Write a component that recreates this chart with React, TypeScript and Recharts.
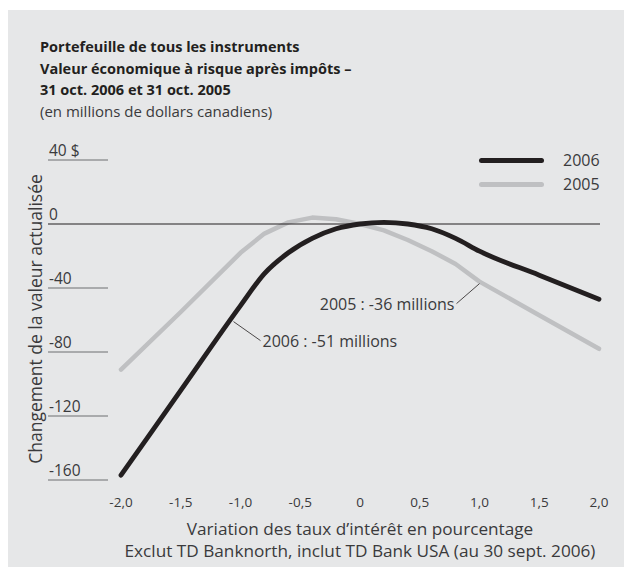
import { LineChart, Line, XAxis, YAxis, ReferenceDot } from 'recharts';

// variation des taux (points de %) et valeur économique à risque (M$ CA)
const rates = [-2, -1.5, -1, -0.8, -0.6, -0.4, -0.2, 0, 0.2, 0.4, 0.6, 0.8, 1, 1.5, 2];
const ev2006 = [-157, -104, -51, -31, -18, -9, -3, 0, 1, 0, -3, -9, -17, -32, -47];
const ev2005 = [-91, -55, -18, -6, 1, 4, 3, 0, -4, -10, -17, -25, -36, -57, -78];
const xTicks = [-2, -1.5, -1, -0.5, 0, 0.5, 1, 1.5, 2];
const yTicks = [-160, -120, -80, -40, 0, 40];

const titleLines = [
  'Portefeuille de tous les instruments',
  'Valeur économique à risque après impôts –',
  '31 oct. 2006 et 31 oct. 2005',
];

const FONT = '"Open Sans", "Noto Sans", sans-serif';
const BLACK = '#231f20';
const GREY = '#bfc0c2';
const TEXT = '#3a3a3c';

const data = rates.map((r, i) => ({ rate: r, y2006: ev2006[i], y2005: ev2005[i] }));

function YTick({ y, payload }: any) {
  const v = payload.value;
  const label = v === 40 ? '40 $' : `${v}`;
  return (
    <g>
      <text x={49} y={y - 4} fontSize={15.5} fill={TEXT} fontFamily={FONT}>{label}</text>
      <line x1={48} x2={v === 0 ? 600 : 108} y1={y} y2={y} stroke={v === 0 ? BLACK : '#6d6e71'} strokeWidth={1} />
    </g>
  );
}

function XTick({ x, y, payload }: any) {
  const v = payload.value;
  const label = v === 0 ? '0' : v.toFixed(1).replace('.', ',');
  return (
    <text x={x} y={y + 27} textAnchor="middle" fontSize={13.5} fill={TEXT} fontFamily={FONT}>{label}</text>
  );
}

function LegendBox() {
  const rows = [
    { name: '2006', color: BLACK },
    { name: '2005', color: GREY },
  ];
  return (
    <div style={{ position: 'absolute', left: 479, top: 148 }}>
      {rows.map((r) => (
        <div key={r.name} style={{ display: 'flex', alignItems: 'center', height: 24 }}>
          <span style={{ display: 'inline-block', width: 65, height: 5, borderRadius: 3, background: r.color }} />
          <span style={{ marginLeft: 19, fontSize: 16, color: TEXT }}>{r.name}</span>
        </div>
      ))}
    </div>
  );
}

function Note2006({ cx, cy }: any) {
  return (
    <g>
      <line x1={cx - 7} y1={cy + 16} x2={cx + 20} y2={cy + 35} stroke={BLACK} strokeWidth={0.8} />
      <text x={cx + 22} y={cy + 41} fontSize={16} fill={TEXT} fontFamily={FONT}>2006 : -51 millions</text>
    </g>
  );
}

function Note2005({ cx, cy }: any) {
  return (
    <g>
      <line x1={cx} y1={cy + 2} x2={cx - 23} y2={cy + 22} stroke={BLACK} strokeWidth={0.8} />
      <text x={cx - 25} y={cy + 28} textAnchor="end" fontSize={16} fill={TEXT} fontFamily={FONT}>2005 : -36 millions</text>
    </g>
  );
}

export default function App() {
  return (
    <div style={{ position: 'absolute', left: 0, top: 0, width: 624, height: 571, fontFamily: FONT }}>
      <div style={{ position: 'absolute', left: 8, top: 10, width: 616, height: 557, background: '#e6e7e8' }} />
      <div style={{ position: 'absolute', left: 40, top: 36, lineHeight: '21.5px' }}>
        {titleLines.map((t) => (
          <div key={t} style={{ fontSize: 14.5, fontWeight: 700, color: BLACK }}>{t}</div>
        ))}
        <div style={{ fontSize: 15, color: TEXT }}>(en millions de dollars canadiens)</div>
      </div>
      <div style={{
        position: 'absolute', left: 35, top: 319, transform: 'translate(-50%, -50%) rotate(-90deg)',
        whiteSpace: 'nowrap', fontSize: 17.5, color: TEXT,
      }}>
        Changement de la valeur actualisée
      </div>
      <div style={{ position: 'absolute', left: 0, width: 720, top: 518, textAlign: 'center', fontSize: 17.2, color: TEXT, lineHeight: '21.5px' }}>
        <div>Variation des taux d’intérêt en pourcentage</div>
        <div>Exclut TD Banknorth, inclut TD Bank USA (au 30 sept. 2006)</div>
      </div>
      <LegendBox />
      <div style={{ position: 'absolute', left: 0, top: 0 }}>
        <LineChart width={624} height={571} data={data} margin={{ top: 160, right: 25, bottom: 61, left: 48 }}>
          <XAxis dataKey="rate" type="number" domain={[-2, 2]} ticks={xTicks} height={30}
            axisLine={false} tickLine={false} tickSize={0} tickMargin={0} tick={<XTick />} />
          <YAxis type="number" domain={[-160, 40]} ticks={yTicks} width={73}
            axisLine={false} tickLine={false} tick={<YTick />} />
          <Line type="linear" dataKey="y2005" name="2005" stroke={GREY} strokeWidth={4.5}
            strokeLinecap="round" strokeLinejoin="round" dot={false} isAnimationActive={false} />
          <Line type="monotone" dataKey="y2006" name="2006" stroke={BLACK} strokeWidth={4.8}
            strokeLinecap="round" strokeLinejoin="round" dot={false} isAnimationActive={false} />
          <ReferenceDot x={-1} y={-51} r={0} shape={<Note2006 />} />
          <ReferenceDot x={1} y={-36} r={0} shape={<Note2005 />} />
        </LineChart>
      </div>
    </div>
  );
}
